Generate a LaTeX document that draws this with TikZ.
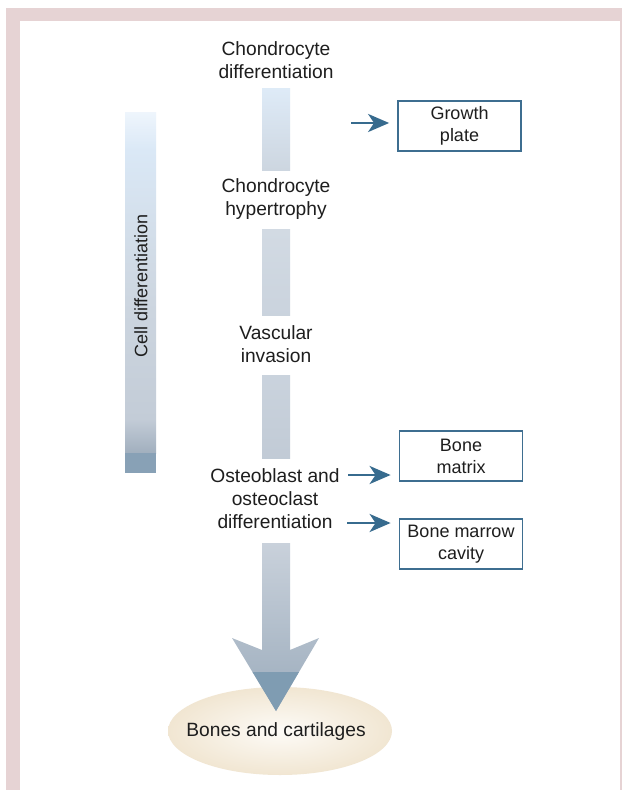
\documentclass[tikz,border=0pt]{standalone}
\usepackage{fontspec}
\setmainfont{Liberation Sans}
\usepackage{xcolor}
\usepackage{tikz}
\usetikzlibrary{
  arrows.meta,
  positioning,
  shapes.geometric,
  calc
}

\definecolor{framepink}{HTML}{E6D3D4}
\definecolor{boxblue}{HTML}{3E6E90}
\definecolor{arrowblue}{HTML}{376B8E}
\definecolor{textgrey}{HTML}{1E1E1E}
\definecolor{barTop}{HTML}{EEF5FC}
\definecolor{barA}{HTML}{DAE8F6}
\definecolor{barB}{HTML}{CDD6E0}
\definecolor{barC}{HTML}{C3CCD7}
\definecolor{barD}{HTML}{A1AFBE}
\definecolor{barFoot}{HTML}{88A1B6}
\definecolor{tipblue}{HTML}{7F9CB2}
\definecolor{creamin}{HTML}{FDFBF7}
\definecolor{creamout}{HTML}{F1E6D2}

\pgfdeclareverticalshading{celldiffshade}{100bp}{
  color(0bp)=(barD); color(25bp)=(barD); color(30bp)=(barC);
  color(47.5bp)=(barB); color(69.5bp)=(barA);
  color(75bp)=(barTop); color(100bp)=(barTop)}

\begin{document}
\begin{tikzpicture}[
  x=0.5pt, y=-0.5pt,
  font=\fontsize{9.6}{11.5}\selectfont,
  steplabel/.style={align=center, text=textgrey},
  outbox/.style={draw=boxblue, line width=0.9pt, minimum width=61.5pt,
    minimum height=25pt, inner sep=0pt, align=center, text=textgrey,
    font=\fontsize{9}{11}\selectfont},
  leadarrow/.style={draw=arrowblue, line width=1.4pt,
    -{Stealth[length=10.5pt, width=9pt, inset=3pt]}, shorten >=4pt},
]
\useasboundingbox (0,0) rectangle (622,790);

% ============ FRAME ============
\fill[framepink] (6,8) rectangle (622,790);
\fill[white] (20,21) rectangle (620,790);

% ============ CELL DIFFERENTIATION BAR ============
\shade[shading=celldiffshade] (125,113) rectangle (156,453);
\fill[barFoot] (125,453) rectangle (156,473);
\node[rotate=90, text=textgrey, font=\fontsize{9}{11}\selectfont] (celldiff)
  at (141,286) {Cell differentiation};

% ============ STAGES ============
\node[steplabel] (chdiff) at (276,60) {Chondrocyte\\differentiation};
\shade[top color=barA!80!barTop, bottom color=barB!95!barC] (262,89) rectangle (290,171);
\node[steplabel] (chhyp) at (276,199) {Chondrocyte\\hypertrophy};
\shade[top color=barB!90!white, bottom color=barB!70!barC] (262,230) rectangle (290,316);
\node[steplabel] (vasc) at (276,344) {Vascular\\invasion};
\shade[top color=barB!70!barC, bottom color=barC!95!barD] (262,375) rectangle (290,458);
\node[steplabel] (osteo) at (275,499) {Osteoblast and\\osteoclast\\differentiation};

% ============ OUTCOME ============
\node[ellipse, minimum width=112pt, minimum height=44pt, inner sep=0pt,
  inner color=creamin, outer color=creamout, text=textgrey] (bones)
  at (280,731) {};
\coordinate (wl) at (232,638);
\coordinate (wr) at (319,638);
\coordinate (tip) at (276,711);
\shade[top color=barC!90!white, bottom color=barD!85!tipblue]
  (262,543) -- (290,543) -- (290,650) -- (wr) -- (tip) -- (wl)
  -- (262,650) -- cycle;
\fill[tipblue] ($(wl)!0.466!(tip)$) -- ($(wr)!0.466!(tip)$) -- (tip) -- cycle;
\node[text=textgrey] (bonestxt) at (276,732) {Bones and cartilages};

% ============ PRODUCTS ============
\node[outbox] (gp) at (459.5,126) {Growth\\plate};
\node[outbox] (bm) at (461,456) {Bone\\matrix};
\node[outbox] (bc) at (461,544) {Bone marrow\\cavity};
\coordinate (a1) at (351,123);
\coordinate (a2) at (348,475);
\coordinate (a3) at (347,523);
\draw[leadarrow] (a1) -- (a1 -| gp.west);
\draw[leadarrow] (a2) -- (a2 -| bm.west);
\draw[leadarrow] (a3) -- (a3 -| bc.west);

\end{tikzpicture}
\end{document}
